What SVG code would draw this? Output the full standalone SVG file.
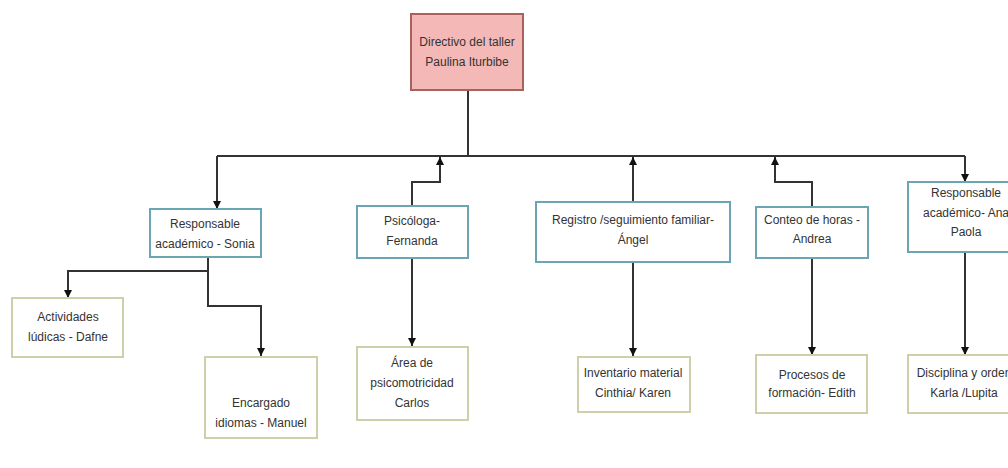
<svg xmlns="http://www.w3.org/2000/svg" width="1008" height="468" viewBox="0 0 1008 468">
<defs>
<marker id="ah" viewBox="0 0 10 10" refX="10" refY="5" markerWidth="8" markerHeight="10" markerUnits="userSpaceOnUse" orient="auto">
<path d="M0,0 L10,5 L0,10 Z" fill="#111"/>
</marker>
<style>
.bg{fill:#ffffff}
.top{fill:#f4b9b6;stroke:#a8625c;stroke-width:2}
.blue{fill:#ffffff;stroke:#6aa5b3;stroke-width:2}
.green{fill:#ffffff;stroke:#cfcfaa;stroke-width:2}
.t{font-family:"Liberation Sans",Arial,sans-serif;font-size:12px;fill:#333;text-anchor:middle}
.c{fill:none;stroke:#333;stroke-width:2}
.ca{fill:none;stroke:#333;stroke-width:2;marker-end:url(#ah)}
</style>
</defs>
<rect class="bg" x="0" y="0" width="1008" height="468"/>
<g id="connectors">
<path class="c" d="M468,90 V156"/>
<path class="c" d="M217,156 H965"/>
<path class="ca" d="M217,156 V209"/>
<path class="ca" d="M412,206 V182 H440 V157"/>
<path class="ca" d="M633,202 V157"/>
<path class="ca" d="M812,207 V182 H775 V157"/>
<path class="ca" d="M965,156 V182"/>
<path class="ca" d="M208,257 V271 H68 V298"/>
<path class="ca" d="M208,271 V306 H261 V356"/>
<path class="ca" d="M412,258 V346"/>
<path class="ca" d="M633,262 V356"/>
<path class="ca" d="M812,258 V355"/>
<path class="ca" d="M965,252 V355"/>
</g>
<g id="n-directivo">
<rect class="top" x="411" y="14" width="112" height="76"/>
<text class="t" x="467" y="46">Directivo del taller</text>
<text class="t" x="467" y="66">Paulina Iturbibe</text>
</g>
<g id="n-sonia">
<rect class="blue" x="150" y="209" width="111" height="48"/>
<text class="t" x="205" y="228">Responsable</text>
<text class="t" x="205" y="248">académico - Sonia</text>
</g>
<g id="n-dafne">
<rect class="green" x="12" y="298" width="111" height="59"/>
<text class="t" x="68" y="321">Actividades</text>
<text class="t" x="68" y="341">lúdicas - Dafne</text>
</g>
<g id="n-manuel">
<rect class="green" x="205" y="357" width="112" height="81"/>
<text class="t" x="261" y="407">Encargado</text>
<text class="t" x="261" y="427">idiomas - Manuel</text>
</g>
<g id="n-fernanda">
<rect class="blue" x="357" y="206" width="111" height="52"/>
<text class="t" x="412" y="225">Psicóloga-</text>
<text class="t" x="412" y="245">Fernanda</text>
</g>
<g id="n-carlos">
<rect class="green" x="357" y="347" width="111" height="73"/>
<text class="t" x="412" y="367">Área de</text>
<text class="t" x="412" y="387">psicomotricidad</text>
<text class="t" x="412" y="407">Carlos</text>
</g>
<g id="n-angel">
<rect class="blue" x="536" y="202" width="194" height="60"/>
<text class="t" x="633" y="224">Registro /seguimiento familiar-</text>
<text class="t" x="633" y="244">Ángel</text>
</g>
<g id="n-inventario">
<rect class="green" x="578" y="357" width="112" height="55"/>
<text class="t" x="633" y="377">Inventario material</text>
<text class="t" x="633" y="397">Cinthia/ Karen</text>
</g>
<g id="n-andrea">
<rect class="blue" x="756" y="207" width="112" height="51"/>
<text class="t" x="812" y="224">Conteo de horas -</text>
<text class="t" x="812" y="243">Andrea</text>
</g>
<g id="n-edith">
<rect class="green" x="756" y="355" width="111" height="58"/>
<text class="t" x="812" y="379">Procesos de</text>
<text class="t" x="812" y="397">formación- Edith</text>
</g>
<g id="n-anapaola">
<rect class="blue" x="908" y="182" width="112" height="70"/>
<text class="t" x="966" y="197">Responsable</text>
<text class="t" x="966" y="217">académico- Ana</text>
<text class="t" x="966" y="236">Paola</text>
</g>
<g id="n-disciplina">
<rect class="green" x="908" y="355" width="112" height="58"/>
<text class="t" x="964" y="377">Disciplina y orden</text>
<text class="t" x="964" y="397">Karla /Lupita</text>
</g>
</svg>
